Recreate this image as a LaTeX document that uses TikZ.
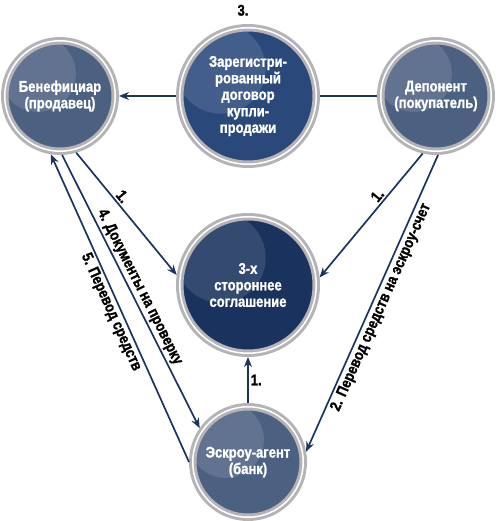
\documentclass[tikz,border=0pt]{standalone}
\usepackage{fontspec}
\setmainfont{Liberation Sans}
\newfontfamily\heavy{Liberation Sans Bold}[FakeStretch=0.84, FakeBold=1.3]
\usetikzlibrary{arrows.meta, positioning, calc}
\definecolor{navy}{RGB}{28,52,96}
\definecolor{slate}{RGB}{76,96,130}
\definecolor{deep}{RGB}{42,72,122}
\definecolor{darkest}{RGB}{26,50,94}
\definecolor{ring}{RGB}{180,180,184}

\begin{document}
\begin{tikzpicture}[
  font=\heavy\fontsize{15.5}{16.5}\selectfont,
  party/.style={circle, draw=ring, line width=3pt, double=white, double distance=1.5pt,
                minimum size=110.5pt, inner sep=0pt, outer sep=3.75pt,
                fill=slate, text=white, align=center},
  doc/.style={party, minimum size=136.5pt, fill=deep},
  gloss/.style={path picture={\fill[white, opacity=0.12]
      ($(path picture bounding box.north west)!0.3!(path picture bounding box.south east)$) circle (#1);}},
  arr/.style={-{Stealth[length=10pt, width=8pt]}, line width=1.7pt, draw=navy},
  lnk/.style={line width=1.7pt, draw=navy},
  num/.style={text=black, inner sep=2pt}
]
\useasboundingbox (-248pt,96pt) rectangle (249pt,-425pt);

% the parties
\node[doc, gloss=45pt] (contract) at (0,0) {Зарегистри-\\рованный\\договор\\купли-\\продажи};
\node[party, gloss=38pt, left=57pt of contract] (benef) {Бенефициар\\(продавец)};
\node[party, gloss=38pt, right=57pt of contract] (depon) {Депонент\\(покупатель)};
\node[doc, gloss=45pt, fill=darkest, below=45pt of contract] (agree) {3-х\\стороннее\\соглашение};
\node[party, gloss=38pt, below=46pt of agree] (escrow) {Эскроу-агент\\(банк)};
\node[num, above=6pt of contract, xshift=-5pt] (step3) {3.};

% connectors
\draw[arr] (contract) -- (benef);
\draw[lnk] (depon) -- (contract);
\draw[arr] (benef.286) -- (agree.172) node[num, sloped, above, pos=0.4] {1.};
\draw[arr] (depon.257) -- (agree.6) node[num, sloped, above, pos=0.38] {1.};
\draw[arr] (depon.272) -- (escrow.10) node[num, sloped, below, midway] {2. Перевод средств на эскроу-счет};
\draw[arr] (escrow) -- (agree) node[num, right, midway] {1.};
\draw[arr] (benef.272) -- (escrow.145) node[num, sloped, above, midway] {4. Документы на проверку};
\draw[arr] (escrow.180) -- (benef.261) node[num, sloped, below, midway] {5. Перевод средств};
\end{tikzpicture}
\end{document}
